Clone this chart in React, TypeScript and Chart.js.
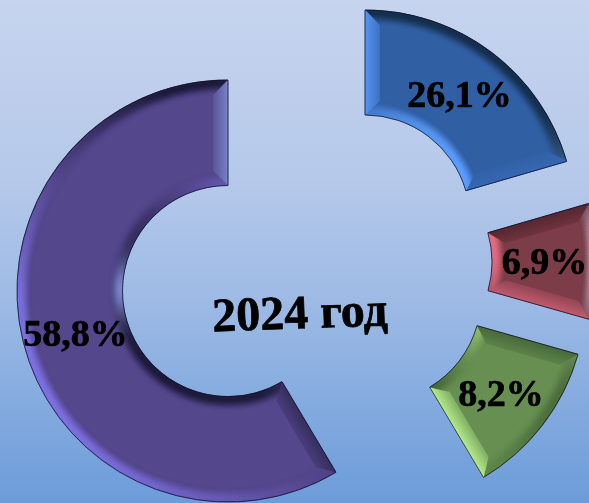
import { useEffect, useRef } from "react";
import { Chart, registerables } from "chart.js";

Chart.register(...registerables);

const categories = ["Синий", "Красный", "Зелёный", "Фиолетовый"];
// Printed percentages, exactly as they are written on the slices.
const sliceLabels = ["26,1%", "6,9%", "8,2%", "58,8%"];
// Share of the circle that each slice really occupies in the picture.
const drawnShares = [20.5, 8.9, 12.05, 58.55];
const centerTitle = "2024 год";

const faceColors = ["#315fa4", "#7c3c48", "#678f52", "#54478c"];
const lightColors = ["#5c9fff", "#e96f86", "#b9f08e", "#7f72e4"];
const darkColors = ["#16304f", "#3d1a22", "#33512a", "#1e1b3c"];
const specColors = ["#8cc4ff", "#f4d4ec", "#d4f5b0", "#8a96e0"];
// Slice centres (exploded by hand-measured amounts) and radii, in pixels.
const sliceCenters = [
  [365, 220],
  [387, 262],
  [376, 297],
  [228, 291],
];
const outerRadii = [210, 210, 210, 211];
const innerRadii = [105, 105, 105, 105.5];
const BEVEL = 14;

type RGB = [number, number, number];
const hex = (c: string): RGB => [
  parseInt(c.slice(1, 3), 16),
  parseInt(c.slice(3, 5), 16),
  parseInt(c.slice(5, 7), 16),
];
const mix = (a: RGB, b: RGB, t: number): RGB => [
  a[0] + (b[0] - a[0]) * t,
  a[1] + (b[1] - a[1]) * t,
  a[2] + (b[2] - a[2]) * t,
];
const css = (c: RGB) => `rgb(${c[0] | 0},${c[1] | 0},${c[2] | 0})`;

function shadeOf(nx: number, ny: number): number {
  const s = nx * -0.9 + ny * 0.42 - 0.9 * Math.max(0, -ny);
  return Math.max(-1, Math.min(1, s));
}
function specOf(nx: number, ny: number): number {
  const ang = Math.atan2(ny, nx);
  return Math.exp(-Math.pow(ang / 0.28, 2));
}

type P = { x: number; y: number; nx: number; ny: number; straight: boolean };
function inset(cx: number, cy: number, R0: number, r0: number, a0: number, a1: number, d: number): P[] {
  const pts: P[] = [];
  const R = R0 - d;
  const r = r0 + d;
  const sA = (rho: number) => Math.asin(Math.min(1, d / rho));
  const pt = (rho: number, a: number, nx: number, ny: number, straight: boolean) =>
    pts.push({ x: cx + rho * Math.cos(a), y: cy + rho * Math.sin(a), nx, ny, straight });
  const from = a0 + sA(R);
  const to = a1 - sA(R);
  const n1 = Math.max(2, Math.ceil(((to - from) * R) / 3));
  for (let i = 0; i <= n1; i++) {
    const a = from + ((to - from) * i) / n1;
    pt(R, a, Math.cos(a), Math.sin(a), false);
  }
  const ex = Math.cos(a1 + Math.PI / 2);
  const ey = Math.sin(a1 + Math.PI / 2);
  pt(r, a1 - sA(r), ex, ey, true);
  const from2 = a1 - sA(r);
  const to2 = a0 + sA(r);
  const n2 = Math.max(2, Math.ceil(((from2 - to2) * r) / 3));
  for (let i = 0; i <= n2; i++) {
    const a = from2 + ((to2 - from2) * i) / n2;
    pt(r, a, -Math.cos(a), -Math.sin(a), false);
  }
  const sx = Math.cos(a0 - Math.PI / 2);
  const sy = Math.sin(a0 - Math.PI / 2);
  pt(R, from, sx, sy, true);
  return pts;
}

const bevelPlugin = {
  id: "bevel",
  beforeDatasetsDraw(chart: any) {
    const meta = chart.getDatasetMeta(0);
    meta.data.forEach((el: any, i: number) => {
      el.x = sliceCenters[i][0];
      el.y = sliceCenters[i][1];
      el.outerRadius = outerRadii[i];
      el.innerRadius = innerRadii[i];
    });
  },
  afterDatasetsDraw(chart: any) {
    const ctx: CanvasRenderingContext2D = chart.ctx;
    const meta = chart.getDatasetMeta(0);
    ctx.save();
    meta.data.forEach((el: any, i: number) => {
      const face = hex(faceColors[i]);
      const light = hex(lightColors[i]);
      const dark = hex(darkColors[i]);
      const spec = hex(specColors[i]);
      ctx.lineWidth = 1.7;
      ctx.lineCap = "butt";
      for (let d = BEVEL; d >= 0; d -= 0.75) {
        const t = d / BEVEL;
        const soft = t < 0.15 ? 1 : Math.pow(Math.cos(((t - 0.15) / 0.85) * (Math.PI / 2)), 1.8);
        const flat = 0.95 - 0.6 * t;
        const pts = inset(el.x, el.y, el.outerRadius, el.innerRadius, el.startAngle, el.endAngle, d);
        for (let k = 0; k < pts.length - 1; k++) {
          const a = pts[k];
          const b = pts[k + 1];
          const p = b.straight ? flat : soft;
          const s = shadeOf(b.nx, b.ny);
          let c = s > 0 ? mix(face, light, s * p) : mix(face, dark, -s * p * (b.straight ? 0.6 : 1));
          c = mix(c, spec, specOf(b.nx, b.ny) * p * 0.85);
          ctx.strokeStyle = css(c);
          ctx.beginPath();
          ctx.moveTo(a.x, a.y);
          ctx.lineTo(b.x, b.y);
          ctx.stroke();
        }
      }
      // Thin dark rim around the slice.
      ctx.strokeStyle = "rgba(12,16,40,0.75)";
      ctx.lineWidth = 1;
      ctx.beginPath();
      ctx.arc(el.x, el.y, el.outerRadius, el.startAngle, el.endAngle);
      ctx.arc(el.x, el.y, el.innerRadius, el.endAngle, el.startAngle, true);
      ctx.closePath();
      ctx.stroke();
    });
    ctx.restore();
  },
  afterDraw(chart: any) {
    const ctx: CanvasRenderingContext2D = chart.ctx;
    const meta = chart.getDatasetMeta(0);
    ctx.save();
    ctx.fillStyle = "#000";
    ctx.strokeStyle = "#000";
    ctx.lineWidth = 0.7;
    ctx.lineJoin = "round";
    ctx.textAlign = "center";
    ctx.textBaseline = "middle";
    ctx.font = "bold 38px 'Liberation Serif', serif";
    meta.data.forEach((el: any, i: number) => {
      const c = el.getCenterPoint();
      ctx.fillText(sliceLabels[i], c.x, c.y + 3);
      ctx.strokeText(sliceLabels[i], c.x, c.y + 3);
    });
    ctx.translate(300, 316);
    ctx.rotate((-2 * Math.PI) / 180);
    ctx.font = "bold 48px 'Liberation Serif', serif";
    ctx.fillText(centerTitle, 0, 0);
    ctx.strokeText(centerTitle, 0, 0);
    ctx.restore();
  },
};

export default function App() {
  const ref = useRef<HTMLCanvasElement>(null);
  useEffect(() => {
    const chart = new Chart(ref.current!, {
      type: "doughnut",
      data: {
        labels: categories,
        datasets: [
          {
            data: drawnShares,
            backgroundColor: faceColors,
            borderWidth: 0,
            clip: false,
          } as any,
        ],
      },
      options: {
        responsive: false,
        animation: false,
        events: [],
        radius: 210,
        cutout: 105,
        layout: { padding: 0 },
        plugins: { legend: { display: false }, tooltip: { enabled: false }, title: { display: false } },
      },
      plugins: [bevelPlugin],
    });
    return () => chart.destroy();
  }, []);
  return (
    <div
      style={{
        position: "absolute",
        left: 0,
        top: 0,
        width: 589,
        height: 503,
        overflow: "hidden",
        background: "linear-gradient(180deg, #c6d4ee 0%, #b6c9ea 35%, #9dbae5 60%, #6c9cd9 100%)",
      }}
    >
      <canvas ref={ref} width={589} height={503} style={{ display: "block" }} />
    </div>
  );
}
